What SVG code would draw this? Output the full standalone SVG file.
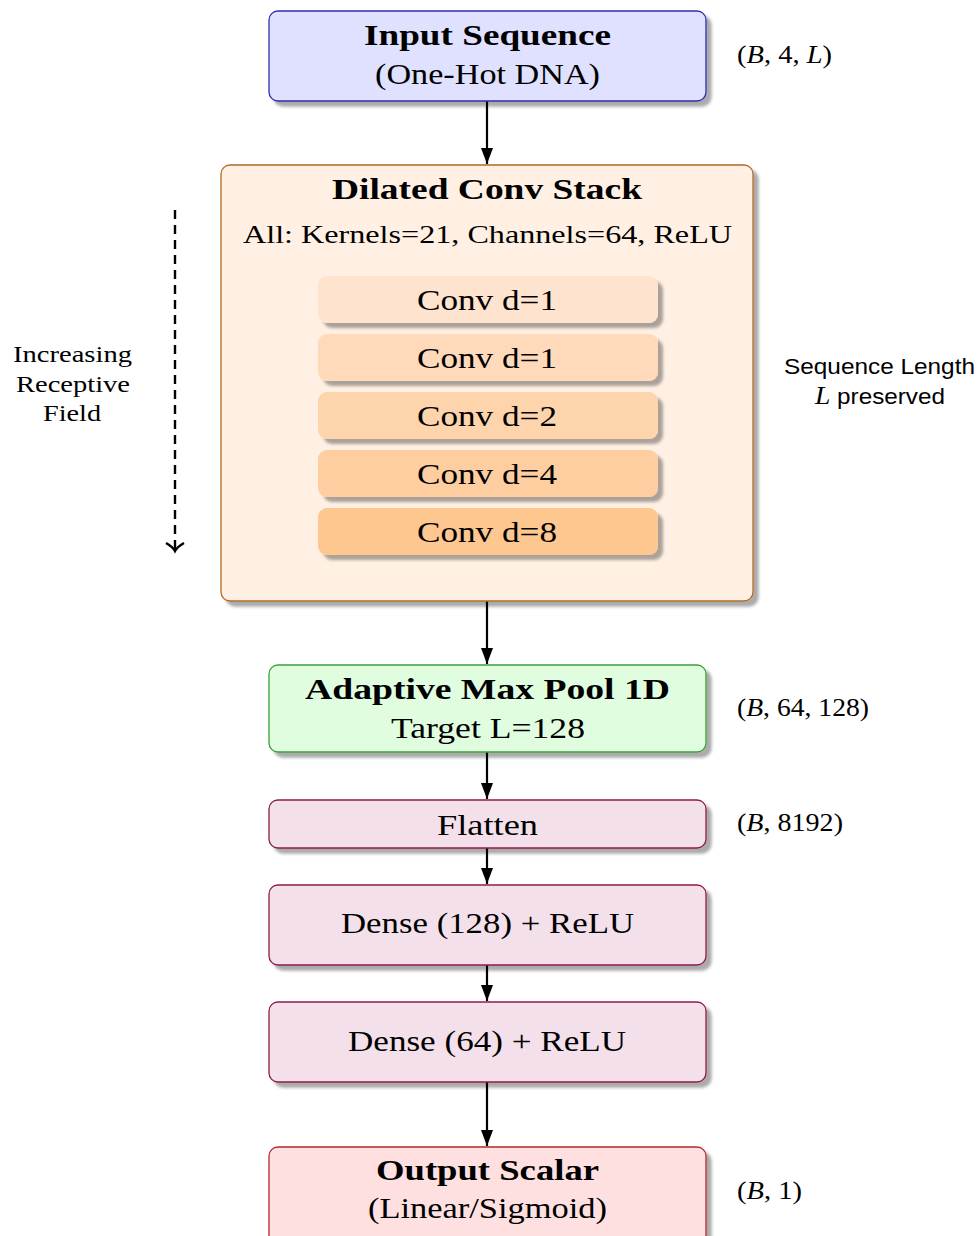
<svg xmlns="http://www.w3.org/2000/svg" width="978" height="1236" viewBox="0 0 978 1236">
<defs>
  <filter id="sh" x="-10%" y="-10%" width="130%" height="140%">
    <feGaussianBlur in="SourceAlpha" stdDeviation="1.6"/>
    <feOffset dx="5" dy="5" result="o"/>
    <feFlood flood-color="#000" flood-opacity="0.33"/>
    <feComposite in2="o" operator="in"/>
    <feMerge><feMergeNode/><feMergeNode in="SourceGraphic"/></feMerge>
  </filter>
  <marker id="ah" markerWidth="18" markerHeight="14" refX="16" refY="7" orient="auto" markerUnits="userSpaceOnUse">
    <path d="M0,1 L16,7 L0,13 Z" fill="#000"/>
  </marker>
  <marker id="open" markerWidth="20" markerHeight="24" refX="10" refY="12" orient="auto" markerUnits="userSpaceOnUse">
    <path d="M2,3 Q6,10 10,12 Q6,14 2,21" fill="none" stroke="#000" stroke-width="2.4"/>
  </marker>
</defs>
<style>
  .t{font-family:"Liberation Serif","Times New Roman",serif;fill:#000;}
  .b{font-weight:bold;}
  .s{font-family:"Liberation Sans",Arial,sans-serif;fill:#000;}
  .box{stroke-width:1.3;filter:url(#sh);}
  .conv{filter:url(#sh);}
  .c{stroke:#000;stroke-width:2.2;fill:none;marker-end:url(#ah);}
</style>

<g id="connectors">
  <line class="c" x1="487" y1="101" x2="487" y2="164"/>
  <line class="c" x1="487" y1="601" x2="487" y2="664"/>
  <line class="c" x1="487" y1="752" x2="487" y2="799"/>
  <line class="c" x1="487" y1="848" x2="487" y2="884"/>
  <line class="c" x1="487" y1="965" x2="487" y2="1001"/>
  <line class="c" x1="487" y1="1082" x2="487" y2="1146"/>
  <line x1="175" y1="210" x2="175" y2="551" stroke="#000" stroke-width="2.4" stroke-dasharray="9,6" marker-end="url(#open)"/>
</g>

<g id="input">
  <rect class="box" x="269" y="11" width="437" height="90" rx="9" fill="#e0e0ff" stroke="#2e2eb0"/>
  <text class="t b" x="487.5" y="45" font-size="29" text-anchor="middle" textLength="247" lengthAdjust="spacingAndGlyphs">Input Sequence</text>
  <text class="t" x="487.5" y="84" font-size="29" text-anchor="middle" textLength="225" lengthAdjust="spacingAndGlyphs">(One-Hot DNA)</text>
</g>
<g id="label-input">
  <text class="t" x="737" y="63" font-size="26" textLength="95" lengthAdjust="spacingAndGlyphs">(<tspan font-style="italic">B</tspan>, 4, <tspan font-style="italic">L</tspan>)</text>
</g>

<g id="stack">
  <rect class="box" x="221" y="165" width="532" height="436" rx="9" fill="#fff0e3" stroke="#b06a26"/>
  <text class="t b" x="487" y="199" font-size="29" text-anchor="middle" textLength="310" lengthAdjust="spacingAndGlyphs">Dilated Conv Stack</text>
  <text class="t" x="487.5" y="243" font-size="25" text-anchor="middle" textLength="489" lengthAdjust="spacingAndGlyphs">All: Kernels=21, Channels=64, ReLU</text>
</g>
<g id="conv1">
  <rect class="conv" x="318" y="276" width="340" height="47" rx="9" fill="#fee3cf"/>
  <text class="t" x="487" y="310" font-size="29" text-anchor="middle" textLength="140" lengthAdjust="spacingAndGlyphs">Conv d=1</text>
</g>
<g id="conv2">
  <rect class="conv" x="318" y="334" width="340" height="47" rx="9" fill="#fedabb"/>
  <text class="t" x="487" y="368" font-size="29" text-anchor="middle" textLength="140" lengthAdjust="spacingAndGlyphs">Conv d=1</text>
</g>
<g id="conv3">
  <rect class="conv" x="318" y="392" width="340" height="47" rx="9" fill="#fed4ad"/>
  <text class="t" x="487" y="426" font-size="29" text-anchor="middle" textLength="140" lengthAdjust="spacingAndGlyphs">Conv d=2</text>
</g>
<g id="conv4">
  <rect class="conv" x="318" y="450" width="340" height="47" rx="9" fill="#fecea0"/>
  <text class="t" x="487" y="484" font-size="29" text-anchor="middle" textLength="140" lengthAdjust="spacingAndGlyphs">Conv d=4</text>
</g>
<g id="conv5">
  <rect class="conv" x="318" y="508" width="340" height="47" rx="9" fill="#fec78f"/>
  <text class="t" x="487" y="542" font-size="29" text-anchor="middle" textLength="140" lengthAdjust="spacingAndGlyphs">Conv d=8</text>
</g>
<g id="label-receptive">
  <text class="t" x="72.5" y="362" font-size="24" text-anchor="middle" textLength="119" lengthAdjust="spacingAndGlyphs">Increasing</text>
  <text class="t" x="73" y="392" font-size="24" text-anchor="middle" textLength="114" lengthAdjust="spacingAndGlyphs">Receptive</text>
  <text class="t" x="72" y="421" font-size="24" text-anchor="middle" textLength="58" lengthAdjust="spacingAndGlyphs">Field</text>
</g>
<g id="label-seq">
  <text class="s" x="879.5" y="374" font-size="22" text-anchor="middle" textLength="191" lengthAdjust="spacingAndGlyphs">Sequence Length</text>
  <text class="s" x="880" y="404" font-size="22" text-anchor="middle" textLength="130" lengthAdjust="spacingAndGlyphs"><tspan class="t" font-style="italic" font-size="25">L</tspan> preserved</text>
</g>

<g id="pool">
  <rect class="box" x="269" y="665" width="437" height="87" rx="9" fill="#e0fde0" stroke="#3a9f3a"/>
  <text class="t b" x="487.5" y="699" font-size="29" text-anchor="middle" textLength="365" lengthAdjust="spacingAndGlyphs">Adaptive Max Pool 1D</text>
  <text class="t" x="488" y="738" font-size="29" text-anchor="middle" textLength="194" lengthAdjust="spacingAndGlyphs">Target L=128</text>
</g>
<g id="label-pool">
  <text class="t" x="737" y="716" font-size="26" textLength="132" lengthAdjust="spacingAndGlyphs">(<tspan font-style="italic">B</tspan>, 64, 128)</text>
</g>

<g id="flatten">
  <rect class="box" x="269" y="800" width="437" height="48" rx="9" fill="#f4e0ea" stroke="#8c1c48"/>
  <text class="t" x="487.5" y="835" font-size="29" text-anchor="middle" textLength="101" lengthAdjust="spacingAndGlyphs">Flatten</text>
</g>
<g id="label-flatten">
  <text class="t" x="737" y="831" font-size="26" textLength="106" lengthAdjust="spacingAndGlyphs">(<tspan font-style="italic">B</tspan>, 8192)</text>
</g>

<g id="dense128">
  <rect class="box" x="269" y="885" width="437" height="80" rx="9" fill="#f4e0ea" stroke="#8c1c48"/>
  <text class="t" x="487.5" y="933" font-size="29" text-anchor="middle" textLength="293" lengthAdjust="spacingAndGlyphs">Dense (128) + ReLU</text>
</g>

<g id="dense64">
  <rect class="box" x="269" y="1002" width="437" height="80" rx="9" fill="#f4e0ea" stroke="#8c1c48"/>
  <text class="t" x="487" y="1051" font-size="29" text-anchor="middle" textLength="278" lengthAdjust="spacingAndGlyphs">Dense (64) + ReLU</text>
</g>

<g id="output">
  <rect class="box" x="269" y="1147" width="437" height="100" rx="9" fill="#ffe0e0" stroke="#b22a2a"/>
  <text class="t b" x="487.5" y="1180" font-size="29" text-anchor="middle" textLength="223" lengthAdjust="spacingAndGlyphs">Output Scalar</text>
  <text class="t" x="487.5" y="1218" font-size="29" text-anchor="middle" textLength="239" lengthAdjust="spacingAndGlyphs">(Linear/Sigmoid)</text>
</g>
<g id="label-output">
  <text class="t" x="737" y="1199" font-size="26" textLength="65" lengthAdjust="spacingAndGlyphs">(<tspan font-style="italic">B</tspan>, 1)</text>
</g>
</svg>
